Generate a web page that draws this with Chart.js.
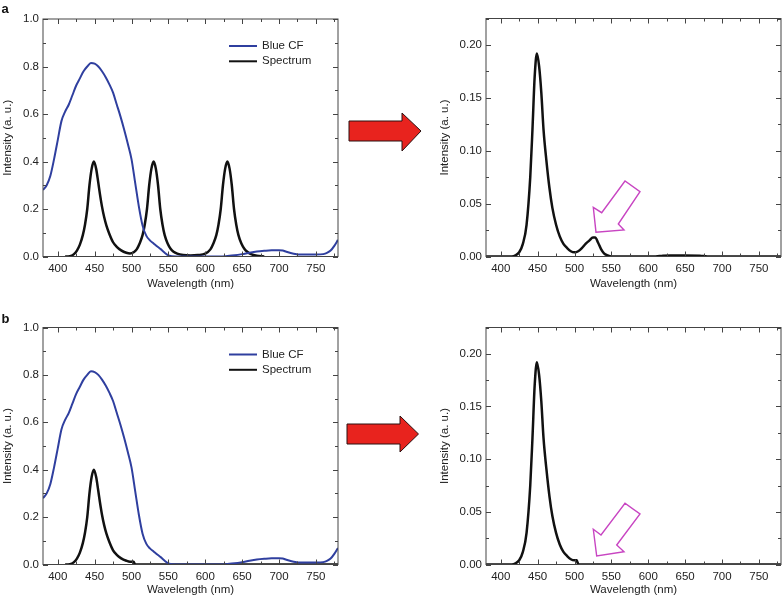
<!DOCTYPE html>
<html>
<head>
<meta charset="utf-8">
<script src="https://cdn.jsdelivr.net/npm/chart.js@4.4.1/dist/chart.umd.min.js"></script>
<style>
  body { margin: 0; background: #fff; }
  #wrap { position: relative; width: 783px; height: 599px; overflow: hidden; }
  #wrap canvas { position: absolute; }
  #overlay { position: absolute; left: 0; top: 0; pointer-events: none; }
</style>
</head>
<body>
<div id="wrap">
  <canvas id="aLeft"></canvas>
  <canvas id="aRight"></canvas>
  <canvas id="bLeft"></canvas>
  <canvas id="bRight"></canvas>
  <svg id="overlay" width="783" height="599">
    <text x="1.5" y="13.3" font-family="Liberation Sans, Arial, sans-serif" font-weight="bold" font-size="13" fill="#111">a</text>
    <text x="1.5" y="323.3" font-family="Liberation Sans, Arial, sans-serif" font-weight="bold" font-size="13" fill="#111">b</text>
    <polygon points="349,121 402,121 402,113 421,131 402,151 402,141 349,141" fill="#e8231e" stroke="#2a1010" stroke-width="1"/>
    <polygon points="347,424 400,424 400,416 418.5,434 400,452 400,444 347,444" fill="#e8231e" stroke="#2a1010" stroke-width="1"/>
    <polygon points="596,232.3 593.3,207.3 601.7,212.7 625,181 640,191.7 618.3,224 624,230" fill="none" stroke="#c845c2" stroke-width="1.4"/>
    <polygon points="596.7,556 593.3,529.3 601,535 625,503.3 640,514 616.7,545 624,551.7" fill="none" stroke="#c845c2" stroke-width="1.4"/>
  </svg>
</div>
<script>
// Blue colour filter transmission (same in a and b)
const blueWl = [380,385,390,395,400,405,410,415,420,425,430,435,440,445,450,455,460,465,470,475,480,485,490,495,500,505,510,515,520,525,530,535,540,545,550,560,600,620,630,640,650,660,670,680,690,700,705,710,720,730,740,750,760,765,770,775,780];
const blueVal = [0.28,0.30,0.34,0.41,0.49,0.57,0.61,0.64,0.68,0.72,0.75,0.78,0.80,0.815,0.812,0.80,0.78,0.755,0.725,0.69,0.64,0.59,0.535,0.475,0.41,0.31,0.21,0.13,0.088,0.068,0.055,0.042,0.03,0.016,0.005,0,0,0,0.002,0.005,0.01,0.016,0.021,0.024,0.026,0.026,0.025,0.02,0.012,0.008,0.008,0.008,0.01,0.015,0.025,0.045,0.07];

// RGB source spectrum (a)
const specAWl = [410,414,418,422,426,430,434,437,440,443,446,449,452,455,457,460,463,466,470,475,480,486,493,498,503,507,511,515,518,521,524,527,530,533,536,539,542,545,549,553,557,562,570,580,590,600,607,611,615,618,621,624,627,630,633,636,639,642,645,649,653,657,662,670,680];
const specAVal = [0,0,0.002,0.01,0.025,0.05,0.09,0.135,0.20,0.30,0.37,0.40,0.37,0.31,0.267,0.21,0.165,0.13,0.095,0.06,0.041,0.026,0.016,0.013,0.018,0.03,0.055,0.09,0.135,0.20,0.30,0.37,0.40,0.37,0.30,0.20,0.135,0.09,0.055,0.033,0.02,0.012,0.006,0.004,0.006,0.012,0.03,0.055,0.09,0.135,0.20,0.30,0.37,0.40,0.37,0.30,0.20,0.135,0.09,0.055,0.033,0.02,0.01,0.003,0];

// blue-only source spectrum (b)
const specBWl = [410,414,418,422,426,430,434,437,440,443,446,449,452,455,457,460,463,466,470,475,480,486,493,498,503,504,506,780];
const specBVal = [0,0,0.002,0.01,0.025,0.05,0.09,0.135,0.20,0.30,0.37,0.40,0.37,0.31,0.267,0.21,0.165,0.13,0.095,0.06,0.041,0.026,0.016,0.012,0.012,0.005,0,0];

// spectrum after the filter
const filtAWl = [380,415,420,425,430,435,440,443,446,449,452,455,458,462,466,470,475,480,485,490,495,500,505,510,515,520,525,528,532,536,540,545,550,610,620,630,650,670,680,780];
const filtAVal = [0,0,0.001,0.004,0.012,0.03,0.075,0.12,0.17,0.192,0.18,0.155,0.12,0.09,0.065,0.046,0.03,0.019,0.012,0.008,0.005,0.004,0.005,0.008,0.012,0.015,0.018,0.018,0.013,0.007,0.003,0.001,0,0,0.0008,0.001,0.001,0.0008,0,0];
const filtBWl = [380,415,420,425,430,435,440,443,446,449,452,455,458,462,466,470,475,480,485,490,495,500,503,504,506,780];
const filtBVal = [0,0,0.001,0.004,0.012,0.03,0.075,0.12,0.17,0.192,0.18,0.155,0.12,0.09,0.065,0.046,0.03,0.019,0.012,0.008,0.005,0.004,0.004,0.002,0,0];

const xTicks = [400,450,500,550,600,650,700,750];
const yTicksLeft = [0,0.2,0.4,0.6,0.8,1.0];
const yTicksRight = [0,0.05,0.10,0.15,0.20];

const blue = '#2f3f9f';
const black = '#111111';
const frameColor = '#444';

Chart.defaults.font.family = "'Liberation Sans', Arial, Helvetica, sans-serif";
Chart.defaults.font.size = 11.5;
Chart.defaults.color = '#222';

const toPoints = (wl, val) => wl.map((w, i) => ({ x: w, y: val[i] }));

// box frame with inward major/minor ticks on all four sides
const framePlugin = {
    id: 'frame',
    afterDraw(chart) {
        const { ctx, chartArea: a, scales: { x, y } } = chart;
        const yt = chart.options.scales.y.tickList;
        const line = (x1, y1, x2, y2) => { ctx.beginPath(); ctx.moveTo(x1, y1); ctx.lineTo(x2, y2); ctx.stroke(); };
        ctx.save();
        ctx.strokeStyle = frameColor;
        ctx.lineWidth = 1;
        ctx.strokeRect(a.left, a.top, a.width, a.height);
        const xs = [], ys = [];
        const xStep = xTicks[1] - xTicks[0];
        for (let v = xTicks[0] - xStep / 2; v <= x.max; v += xStep / 2) if (v >= x.min) xs.push([v, xTicks.includes(v)]);
        const yStep = yt[1] - yt[0];
        for (let k = 0; k * yStep / 2 <= y.max + 1e-9; k++) ys.push([k * yStep / 2, k % 2 === 0]);
        xs.forEach(([v, major]) => {
            const px = Math.round(x.getPixelForValue(v)) + 0.5, len = major ? 5 : 3;
            line(px, a.bottom, px, a.bottom - len);
            line(px, a.top, px, a.top + len);
        });
        ys.forEach(([v, major]) => {
            const py = Math.round(y.getPixelForValue(v)) + 0.5, len = major ? 5 : 3;
            line(a.left, py, a.left + len, py);
            line(a.right, py, a.right - len, py);
        });
        ctx.restore();
    }
};

// small legend inside the plot, top right
const legendPlugin = {
    id: 'boxLegend',
    afterDraw(chart, args, opts) {
        if (!opts.show) return;
        const { ctx, chartArea: a } = chart;
        ctx.save();
        chart.data.datasets.forEach((ds, i) => {
            const yy = a.top + 27 + i * 15.3;
            ctx.strokeStyle = ds.borderColor;
            ctx.lineWidth = 2;
            ctx.beginPath();
            ctx.moveTo(a.left + 186, yy);
            ctx.lineTo(a.left + 214, yy);
            ctx.stroke();
            ctx.fillStyle = '#222';
            ctx.font = "11.5px 'Liberation Sans', Arial, sans-serif";
            ctx.textBaseline = 'middle';
            ctx.fillText(ds.label, a.left + 219, yy);
        });
        ctx.restore();
    }
};

function makePanel(id, box, datasets, yMax, yTicks, decimals, showLegend) {
    const cv = document.getElementById(id);
    cv.width = box.w; cv.height = box.h;
    cv.style.left = box.left + 'px';
    cv.style.top = box.top + 'px';
    return new Chart(cv, {
        type: 'line',
        data: { datasets },
        plugins: [framePlugin, legendPlugin],
        options: {
            responsive: false,
            animation: false,
            layout: { padding: { top: box.padTop, right: box.padRight, left: 0, bottom: 0 } },
            elements: { point: { radius: 0 }, line: { cubicInterpolationMode: 'monotone' } },
            plugins: { legend: { display: false }, tooltip: { enabled: false }, boxLegend: { show: showLegend } },
            scales: {
                x: {
                    type: 'linear', min: 380, max: 780,
                    grid: { display: false, drawTicks: false },
                    border: { display: false },
                    ticks: { padding: 5, autoSkip: false, maxRotation: 0 },
                    afterBuildTicks: s => { s.ticks = xTicks.map(v => ({ value: v })); },
                    afterFit: s => { s.height = box.xH; },
                    title: { display: true, text: 'Wavelength (nm)', padding: { top: 0, bottom: box.xTitlePad } }
                },
                y: {
                    type: 'linear', min: 0, max: yMax,
                    tickList: yTicks,
                    grid: { display: false, drawTicks: false },
                    border: { display: false },
                    ticks: { padding: 4, callback: v => v.toFixed(decimals) },
                    afterBuildTicks: s => { s.ticks = yTicks.map(v => ({ value: v })); },
                    afterFit: s => { s.width = box.yW; },
                    title: { display: true, text: 'Intensity (a. u.)', padding: { top: box.yTitlePad, bottom: 0 } }
                }
            }
        }
    });
}

const pair = (wlB, valB, wlS, valS) => [
    { label: 'Blue CF', data: toPoints(wlB, valB), borderColor: blue, borderWidth: 2 },
    { label: 'Spectrum', data: toPoints(wlS, valS), borderColor: black, borderWidth: 2.5 }
];

makePanel('aLeft', { left: 0, top: 0, w: 345, h: 295, padTop: 19, padRight: 7, xH: 38.5, yW: 43, xTitlePad: 4, yTitlePad: 1 },
    pair(blueWl, blueVal, specAWl, specAVal), 1.0, yTicksLeft, 1, true);
makePanel('aRight', { left: 437, top: 0, w: 346, h: 295, padTop: 18.5, padRight: 2, xH: 38.5, yW: 49, xTitlePad: 4, yTitlePad: 1 },
    [{ label: 'Spectrum', data: toPoints(filtAWl, filtAVal), borderColor: black, borderWidth: 2.5 }], 0.225, yTicksRight, 2, false);
makePanel('bLeft', { left: 0, top: 308, w: 345, h: 291, padTop: 19.5, padRight: 7, xH: 34.5, yW: 43, xTitlePad: 2, yTitlePad: 1 },
    pair(blueWl, blueVal, specBWl, specBVal), 1.0, yTicksLeft, 1, true);
makePanel('bRight', { left: 437, top: 308, w: 346, h: 291, padTop: 19.5, padRight: 2, xH: 34.5, yW: 49, xTitlePad: 2, yTitlePad: 1 },
    [{ label: 'Spectrum', data: toPoints(filtBWl, filtBVal), borderColor: black, borderWidth: 2.5 }], 0.225, yTicksRight, 2, false);
</script>
</body>
</html>
